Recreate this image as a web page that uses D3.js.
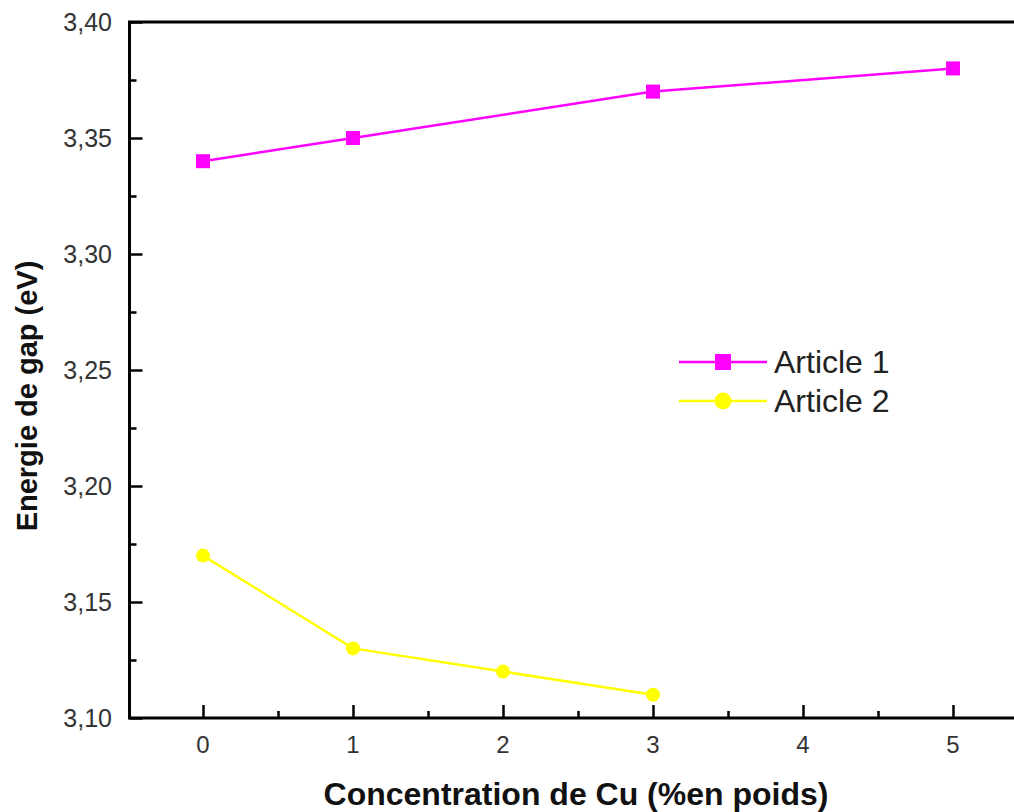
<!DOCTYPE html>
<html>
<head>
<meta charset="utf-8">
<script src="https://cdn.jsdelivr.net/npm/d3@7"></script>
<style>
  html, body { margin: 0; padding: 0; background: #fff; }
  svg { display: block; font-family: "Liberation Sans", Arial, sans-serif; }
</style>
</head>
<body>
<svg id="chart" width="1014" height="812"></svg>
<script>
// Band-gap energy vs Cu concentration
const article1X = [0, 1, 3, 5];
const article1Y = [3.34, 3.35, 3.37, 3.38];
const article2X = [0, 1, 2, 3];
const article2Y = [3.17, 3.13, 3.12, 3.11];
const seriesNames = ["Article 1", "Article 2"];
const xTicks = [0, 1, 2, 3, 4, 5];
const xMinorTicks = [0.5, 1.5, 2.5, 3.5, 4.5];
const yTicks = [3.10, 3.15, 3.20, 3.25, 3.30, 3.35, 3.40];
const yMinorTicks = [3.125, 3.175, 3.225, 3.275, 3.325, 3.375];

const svg = d3.select("#chart");
const x = d3.scaleLinear().domain([-0.5, 5.5]).range([128, 1028]);
const y = d3.scaleLinear().domain([3.10, 3.40]).range([718, 22]);

const fmt = d => d.toFixed(2).replace(".", ",");

// Frame: left, bottom and top lines
const frame = svg.append("g").attr("stroke", "#000").attr("stroke-width", 3).attr("fill", "none");
frame.append("line").attr("x1", x(-0.5) + 1.5).attr("x2", x(-0.5) + 1.5).attr("y1", y(3.40)).attr("y2", y(3.10));
frame.append("line").attr("x1", x(-0.5)).attr("x2", 1014).attr("y1", y(3.10)).attr("y2", y(3.10));
frame.append("line").attr("x1", x(-0.5)).attr("x2", 1014).attr("y1", y(3.40)).attr("y2", y(3.40));

// Y axis (ticks pointing inward)
const yAxis = d3.axisRight(y).tickValues(yTicks).tickSize(13).tickFormat("");
const yg = svg.append("g").attr("transform", `translate(${x(-0.5) + 1.5},0)`).call(yAxis);
yg.select(".domain").remove();
yg.selectAll(".tick line").attr("stroke", "#000").attr("stroke-width", 2.5);
const yMinor = d3.axisRight(y).tickValues(yMinorTicks).tickSize(7).tickFormat("");
const ymg = svg.append("g").attr("transform", `translate(${x(-0.5) + 1.5},0)`).call(yMinor);
ymg.select(".domain").remove();
ymg.selectAll(".tick line").attr("stroke", "#000").attr("stroke-width", 2.5);

svg.append("g").selectAll("text").data(yTicks).join("text")
  .attr("x", 112).attr("y", d => y(d)).attr("dy", "0.36em")
  .attr("text-anchor", "end").attr("font-size", 25).attr("fill", "#333")
  .text(fmt);

// X axis (ticks pointing inward)
const xAxis = d3.axisTop(x).tickValues(xTicks).tickSize(13).tickFormat("");
const xg = svg.append("g").attr("transform", `translate(0,${y(3.10)})`).call(xAxis);
xg.select(".domain").remove();
xg.selectAll(".tick line").attr("stroke", "#000").attr("stroke-width", 2.5);
const xMinor = d3.axisTop(x).tickValues(xMinorTicks).tickSize(7).tickFormat("");
const xmg = svg.append("g").attr("transform", `translate(0,${y(3.10)})`).call(xMinor);
xmg.select(".domain").remove();
xmg.selectAll(".tick line").attr("stroke", "#000").attr("stroke-width", 2.5);

svg.append("g").selectAll("text").data(xTicks).join("text")
  .attr("x", d => x(d)).attr("y", 753)
  .attr("text-anchor", "middle").attr("font-size", 24).attr("fill", "#333")
  .text(d => d);

// Axis titles
svg.append("text")
  .attr("x", 576).attr("y", 805).attr("text-anchor", "middle")
  .attr("font-size", 32).attr("font-weight", "bold").attr("fill", "#111")
  .text("Concentration de Cu (%en poids)");
svg.append("text")
  .attr("transform", `translate(37,${396}) rotate(-90)`)
  .attr("text-anchor", "middle")
  .attr("font-size", 29).attr("font-weight", "bold").attr("fill", "#111")
  .text("Energie de gap (eV)");

// Series
const s1 = article1X.map((v, i) => [v, article1Y[i]]);
const s2 = article2X.map((v, i) => [v, article2Y[i]]);
const line = d3.line().x(d => x(d[0])).y(d => y(d[1]));

svg.append("path").datum(s1).attr("d", line)
  .attr("fill", "none").attr("stroke", "#ff00ff").attr("stroke-width", 2.5);
svg.append("g").selectAll("rect").data(s1).join("rect")
  .attr("x", d => x(d[0]) - 7).attr("y", d => y(d[1]) - 7)
  .attr("width", 14).attr("height", 14).attr("fill", "#ff00ff");

svg.append("path").datum(s2).attr("d", line)
  .attr("fill", "none").attr("stroke", "#ffff00").attr("stroke-width", 2.5);
svg.append("g").selectAll("circle").data(s2).join("circle")
  .attr("cx", d => x(d[0])).attr("cy", d => y(d[1])).attr("r", 7)
  .attr("fill", "#ffff00");

// Legend
const legend = svg.append("g");
const rows = [
  { name: seriesNames[0], color: "#ff00ff", shape: "square", cy: 362 },
  { name: seriesNames[1], color: "#ffff00", shape: "circle", cy: 401 }
];
rows.forEach(r => {
  legend.append("line").attr("x1", 679).attr("x2", 767).attr("y1", r.cy).attr("y2", r.cy)
    .attr("stroke", r.color).attr("stroke-width", 2.5);
  if (r.shape === "square") {
    legend.append("rect").attr("x", 723 - 8).attr("y", r.cy - 8).attr("width", 16).attr("height", 16).attr("fill", r.color);
  } else {
    legend.append("circle").attr("cx", 723).attr("cy", r.cy).attr("r", 8.5).attr("fill", r.color);
  }
  legend.append("text").attr("x", 774).attr("y", r.cy + 11)
    .attr("font-size", 32).attr("fill", "#222").text(r.name);
});
</script>
</body>
</html>
